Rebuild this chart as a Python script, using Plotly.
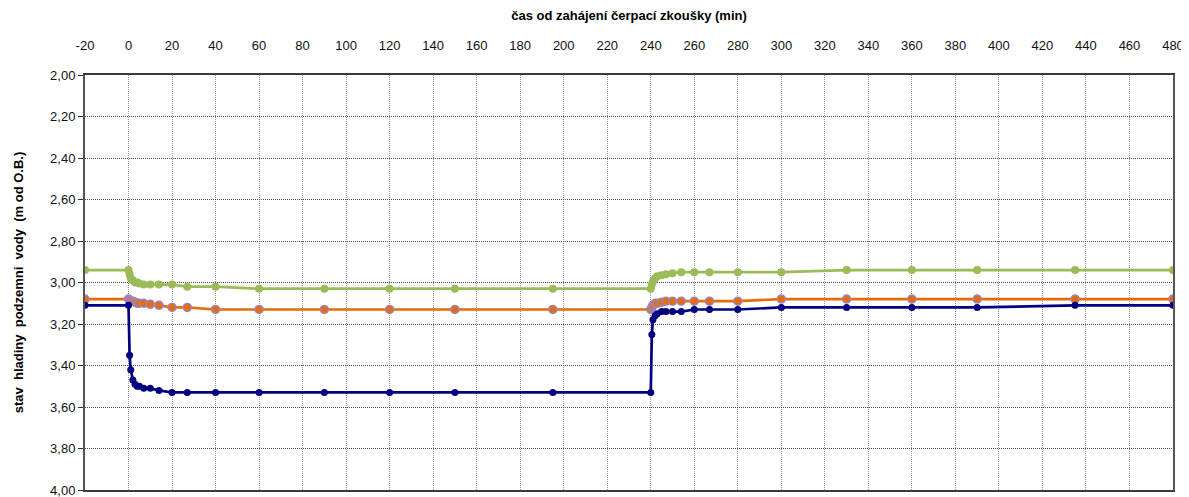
import plotly.graph_objects as go

# time since start of pumping test (min)
time_min = [-20, 0, 0.5, 1, 2, 3, 4, 5, 7, 10, 14, 20, 27,
            40, 60, 90, 120, 150, 195, 240,
            240.5, 241, 242, 243, 245, 247, 250, 254, 260, 267, 280,
            300, 330, 360, 390, 435, 480]

# groundwater level (m below reference point)
level_blue = [3.11, 3.11, 3.35, 3.42, 3.47, 3.49, 3.50, 3.50, 3.51, 3.51, 3.52, 3.53, 3.53,
              3.53, 3.53, 3.53, 3.53, 3.53, 3.53, 3.53,
              3.25, 3.18, 3.16, 3.15, 3.14, 3.14, 3.14, 3.14, 3.13, 3.13, 3.13,
              3.12, 3.12, 3.12, 3.12, 3.11, 3.11]

level_orange = [3.08, 3.08, 3.085, 3.09, 3.09, 3.095, 3.10, 3.10, 3.10, 3.105, 3.11, 3.12, 3.12,
                3.13, 3.13, 3.13, 3.13, 3.13, 3.13, 3.13,
                3.12, 3.11, 3.10, 3.10, 3.095, 3.09, 3.09, 3.09, 3.09, 3.09, 3.09,
                3.08, 3.08, 3.08, 3.08, 3.08, 3.08]

level_green = [2.94, 2.94, 2.96, 2.98, 2.99, 3.00, 3.00, 3.005, 3.01, 3.01, 3.01, 3.01, 3.02,
               3.02, 3.03, 3.03, 3.03, 3.03, 3.03, 3.03,
               3.01, 2.995, 2.98, 2.97, 2.965, 2.96, 2.955, 2.95, 2.95, 2.95, 2.95,
               2.95, 2.94, 2.94, 2.94, 2.94, 2.94]

x_ticks = list(range(-20, 481, 20))
y_ticks = [2.0, 2.2, 2.4, 2.6, 2.8, 3.0, 3.2, 3.4, 3.6, 3.8, 4.0]

FONT = "Liberation Sans, Arial, sans-serif"

fig = go.Figure()
fig.add_trace(go.Scatter(
    x=time_min, y=level_green, mode="lines+markers",
    line=dict(color="#9BBB59", width=2.7),
    marker=dict(color="#9BBB59", size=8, line=dict(width=0)),
    showlegend=False))
fig.add_trace(go.Scatter(
    x=time_min, y=level_orange, mode="lines+markers",
    line=dict(color="#E46C0A", width=2.7),
    marker=dict(color="#E46C0A", size=8, line=dict(color="#9C85C0", width=1.5)),
    showlegend=False))
fig.add_trace(go.Scatter(
    x=time_min, y=level_blue, mode="lines+markers",
    line=dict(color="#000080", width=2.7),
    marker=dict(color="#000080", size=7, line=dict(width=0)),
    showlegend=False))

fig.update_layout(
    width=1181, height=489,
    margin=dict(l=77, r=14, t=67, b=5),
    paper_bgcolor="white", plot_bgcolor="white",
    separators=", ",
    font=dict(family=FONT, size=12, color="#000000"),
    xaxis=dict(
        side="top", range=[-20, 480], tickvals=x_ticks,
        ticktext=[str(v) for v in x_ticks],
        tickfont=dict(size=13, color="#111"),
        showgrid=True, gridcolor="#9a9a9a", griddash="1px,1px", gridwidth=1,
        showline=True, linecolor="#3a3a3a", linewidth=2, mirror=True,
        ticks="", ticklabelstandoff=18, zeroline=False,
        title=dict(text="<b>čas od zahájení čerpací zkoušky (min)</b>",
                   font=dict(size=13, family=FONT), standoff=14),
    ),
    yaxis=dict(
        range=[4.0, 2.0], tickvals=y_ticks, tickformat=".2f",
        tickfont=dict(size=13, color="#111"),
        showgrid=True, gridcolor="#4a4a4a", griddash="1px,1px", gridwidth=1,
        showline=True, linecolor="#555555", linewidth=2, mirror=True,
        ticks="outside", ticklen=5, tickcolor="#333", zeroline=False,
        ticklabeloverflow="allow", automargin="left",
        title=dict(text="<b>stav  hladiny  podzemni  vody  (m od O.B.)</b>",
                   font=dict(size=13, family=FONT), standoff=24),
    ),
)

fig.write_html("out.html")
